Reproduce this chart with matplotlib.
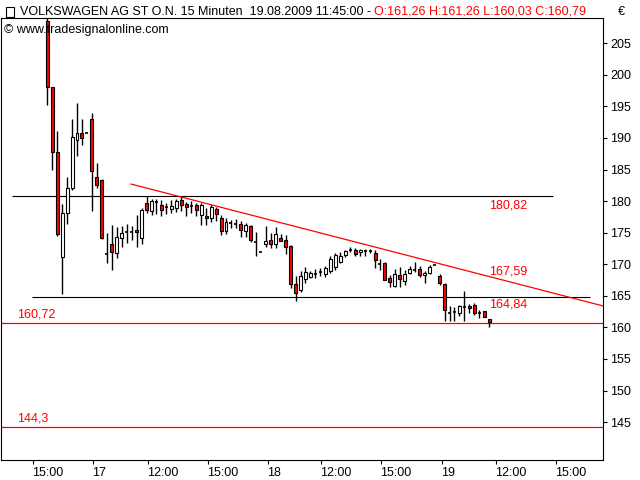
import matplotlib
matplotlib.use("Agg")
import matplotlib.pyplot as plt
from matplotlib.transforms import ScaledTranslation

plt.rcParams['font.family'] = ['Liberation Sans', 'DejaVu Sans']

opens = [208.6,198.0,187.8,171.1,178.1,182.1,189.7,190.8,190.8,193.0,183.8,183.3,171.6,173.2,171.8,174.1,175.1,175.1,175.4,174.1,
179.7,178.4,179.9,179.4,179.1,178.7,178.9,180.2,179.5,179.2,179.4,177.8,177.6,177.3,178.7,177.3,175.2,176.5,176.4,176.4,
175.2,176.0,173.5,171.9,173.2,173.8,173.2,174.1,173.8,172.9,166.9,165.9,167.7,168.0,168.4,168.8,168.4,168.9,169.6,170.4,
171.5,172.3,172.3,171.9,172.1,172.1,171.8,170.0,170.2,167.8,166.6,168.3,167.3,168.6,169.1,169.2,168.3,168.6,169.9,168.1,
166.9,162.3,162.4,162.3,163.2,163.4,163.5,162.3,162.6,161.26]
highs = [209.0,198.0,191.1,179.5,183.8,193.0,195.5,193.0,190.8,193.9,186.0,183.5,175.0,176.2,175.9,176.0,176.4,176.0,177.8,178.9,
180.8,180.3,180.3,180.2,179.7,180.2,180.3,180.6,179.8,180.0,179.7,179.7,178.9,179.4,179.1,177.8,177.3,177.0,177.2,176.8,
176.5,176.2,175.1,171.9,176.0,175.0,175.9,174.8,174.6,173.0,168.1,168.9,169.6,168.9,169.2,169.4,169.7,171.3,171.8,171.9,
172.3,172.7,172.6,172.4,172.4,172.4,172.3,170.8,170.3,168.3,169.2,169.6,169.1,169.7,170.3,169.7,168.9,169.9,169.9,168.4,
167.0,163.4,163.2,163.5,165.8,163.7,163.9,162.8,162.6,161.26]
lows = [195.2,184.9,174.5,165.3,176.4,181.7,187.1,188.9,190.8,178.4,182.1,174.0,170.2,169.1,171.0,172.7,173.4,173.8,172.7,173.2,
178.1,177.8,178.0,177.6,178.0,178.1,178.3,178.4,177.6,178.1,177.6,176.2,176.2,176.7,176.8,174.6,174.8,175.7,175.7,174.3,
174.3,173.5,171.3,171.9,172.7,172.6,172.6,173.7,171.6,166.2,164.2,165.6,167.0,167.8,167.8,168.1,168.0,168.6,169.1,170.2,
171.2,171.9,171.3,171.3,171.3,171.8,169.4,169.1,167.5,166.4,166.4,166.4,166.7,168.4,168.8,168.0,167.0,168.4,169.9,166.7,
161.0,161.0,161.0,161.8,161.0,162.3,162.0,161.5,161.6,160.03]
closes = [198.0,187.8,174.8,178.1,182.1,190.1,190.8,190.0,190.8,184.7,182.5,174.1,171.6,171.9,174.3,174.9,175.1,175.1,175.1,178.6,
178.6,180.0,179.9,178.6,179.1,179.2,180.0,179.4,179.1,179.2,178.6,179.4,177.3,179.1,177.9,175.2,176.7,176.5,176.4,175.4,
176.2,173.8,173.5,171.9,173.7,173.2,174.8,173.7,172.7,166.9,165.4,168.1,168.8,168.6,168.4,168.8,169.4,170.8,171.5,171.3,
172.1,172.3,171.6,172.3,172.1,172.1,170.7,170.0,167.5,167.2,168.5,167.7,168.5,169.2,169.1,168.3,168.6,169.6,169.9,167.0,
162.8,162.3,162.4,163.4,163.2,163.1,162.3,162.3,161.6,160.79]

xtick_pos = [-2.9, 9.3, 20.3, 32.3, 44.5, 55.2, 67.3, 79.5, 90.4, 102.5]
xtick_labels = ["15:00", "17", "12:00", "15:00", "18", "12:00", "15:00", "19", "12:00", "15:00"]
ytick_vals = [145, 150, 155, 160, 165, 170, 175, 180, 185, 190, 195, 200, 205]

black_levels = [(180.82, -7.0, 101.8), (164.84, -3.0, 109.3)]
red_levels = [160.72, 144.3]
trend = [(16.9, 182.7), (111.9, 163.4)]

fig = plt.figure(figsize=(6.4, 4.8), dpi=100)
ax = fig.add_axes([1/640, 20/480, 602/640, 442/480])
ax.set_xlim(-9.3, 111.9)
ax.set_ylim(139.0, 209.0)

w = 0.6
for i, (o, h, l, c) in enumerate(zip(opens, highs, lows, closes)):
    ax.vlines(i, l, h, color="black", lw=1, zorder=3)
    if abs(o - c) < 0.15:
        ax.hlines(o, i - w/2, i + w/2, color="black", lw=1.2, zorder=4)
    else:
        fc = "red" if c < o else "white"
        ax.bar(i, abs(c - o), bottom=min(o, c), width=w, color=fc,
               edgecolor="black", lw=0.8, zorder=4)

for lv, x0, x1 in black_levels:
    ax.hlines(lv, x0, x1, color="black", lw=0.8, zorder=2)
for lv in red_levels:
    ax.axhline(lv, color="red", lw=0.9, zorder=2)
ax.plot([trend[0][0], trend[1][0]], [trend[0][1], trend[1][1]], color="red", lw=0.9, zorder=2)

fs = 9
ax.text(89.0, 180.82 - 0.6, "180,82", color="red", fontsize=fs, va="top", ha="left")
ax.text(89.0, 167.59 + 0.3, "167,59", color="red", fontsize=fs, va="bottom", ha="left")
ax.text(89.0, 164.84 - 0.3, "164,84", color="red", fontsize=fs, va="top", ha="left")
ax.text(-6.0, 160.72 + 0.3, "160,72", color="red", fontsize=fs, va="bottom", ha="left")
ax.text(-6.0, 144.3 + 0.3, "144,3", color="red", fontsize=fs, va="bottom", ha="left")

ax.yaxis.tick_right()
ax.set_yticks(ytick_vals)
ax.set_yticklabels([str(v) for v in ytick_vals], fontsize=fs)
ax.set_xticks(xtick_pos)
ax.set_xticklabels(xtick_labels, fontsize=fs)
ax.tick_params(axis="both", length=3, width=0.8, direction="out", pad=2)
offset = ScaledTranslation(-1/100, 0, fig.dpi_scale_trans)
for lab in ax.get_xticklabels():
    lab.set_horizontalalignment("left")
    lab.set_transform(lab.get_transform() + offset)
for s in ax.spines.values():
    s.set_linewidth(0.8)

t1 = fig.text(20/640, 1 - 12/480, "VOLKSWAGEN AG ST O.N. 15 Minuten  19.08.2009 11:45:00 - ", fontsize=fs, va="center", ha="left")
fig.canvas.draw()
bb = t1.get_window_extent()
fig.text(bb.x1 / 640, 1 - 12/480, "O:161,26 H:161,26 L:160,03 C:160,79", fontsize=fs, va="center", ha="left", color="red")
fig.text(4/640, 1 - 30/480, "© www.tradesignalonline.com", fontsize=fs, va="center", ha="left")
fig.text(618/640, 1 - 12/480, "€", fontsize=fs, va="center", ha="left")
fig.patches.append(plt.Rectangle((6/640, 1 - 17/480), 8/640, 10/480, fill=False, lw=0.8,
                                 edgecolor="black", transform=fig.transFigure))

fig.savefig("out.png", dpi=100)
